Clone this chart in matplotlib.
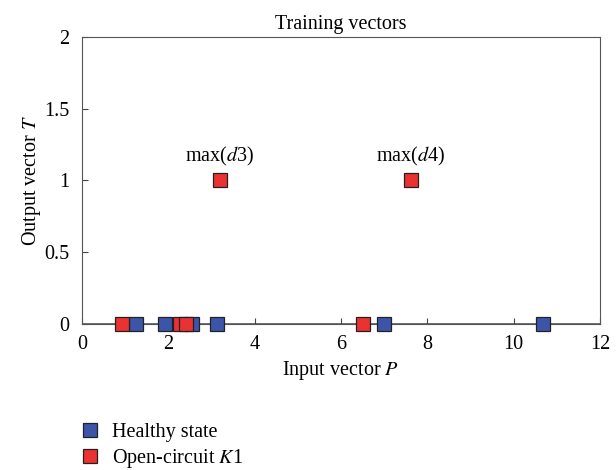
import numpy as np
import matplotlib.pyplot as plt
from matplotlib.lines import Line2D

plt.rcParams['font.family'] = ['Liberation Serif', 'DejaVu Serif']
plt.rcParams['mathtext.fontset'] = 'stix'

# training vectors
healthy_p = [1.25, 1.92, 2.56, 3.12, 7.0, 10.67]
healthy_t = [0, 0, 0, 0, 0, 0]
fault_p = [0.92, 2.27, 2.40, 6.50, 3.20, 7.62]
fault_t = [0, 0, 0, 0, 1, 1]
notes = ['max($d$3)', 'max($d$4)']
note_p = [3.20, 7.62]
note_t = [1, 1]

blue = '#3d55a8'
red = '#eb3232'
fs = 14.5

fig = plt.figure(figsize=(6.16, 4.7), dpi=100)
ax = fig.add_axes([0.133, 0.311, 0.841, 0.610])

ax.axhline(0, color='#555555', lw=1.2, zorder=1)
ax.plot(healthy_p, healthy_t, 's', ms=10.5, mfc=blue, mec='#222222', mew=0.9, ls='none', zorder=3, clip_on=False)
ax.plot(fault_p, fault_t, 's', ms=10.5, mfc=red, mec='#222222', mew=0.9, ls='none', zorder=4, clip_on=False)

for s, x, y in zip(notes, note_p, note_t):
    ax.text(x, y + 0.09, s, ha='center', va='bottom', fontsize=fs)

ax.set_xlim(0, 12)
ax.set_ylim(0, 2)
ax.set_xticks(np.arange(0, 13, 2))
ax.set_yticks([0, 0.5, 1, 1.5, 2])
ax.set_yticklabels(['0', '0.5', '1', '1.5', '2'])
ax.tick_params(direction='in', labelsize=fs, length=4, color='#444444')
ax.tick_params(axis='x', pad=8)
ax.tick_params(axis='y', pad=9)
for sp in ax.spines.values():
    sp.set_color('#555555')
ax.set_xlabel('Input vector $P$', fontsize=fs, labelpad=4)
ax.set_ylabel('Output vector $T$', fontsize=fs, labelpad=1)
ax.set_title('Training vectors', fontsize=fs, pad=6)

handles = [Line2D([], [], marker='s', ls='none', ms=10.5, mfc=blue, mec='#222222', mew=0.9),
           Line2D([], [], marker='s', ls='none', ms=10.5, mfc=red, mec='#222222', mew=0.9)]
fig.legend(handles, ['Healthy state', 'Open-circuit $K$1'], loc='lower left',
           bbox_to_anchor=(0.097, -0.022), borderaxespad=0.1, frameon=False, fontsize=fs,
           handletextpad=0.1, labelspacing=0.25)

fig.savefig('out.png', dpi=100)
